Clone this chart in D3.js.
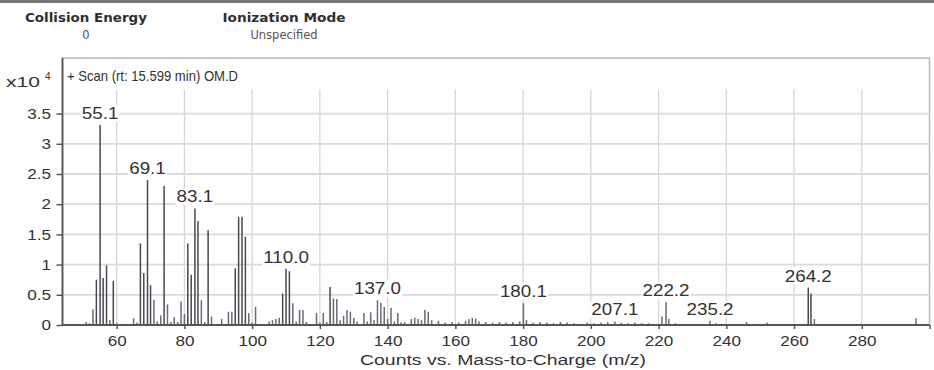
<!DOCTYPE html>
<html>
<head>
<meta charset="utf-8">
<script src="https://cdn.jsdelivr.net/npm/d3@7"></script>
<style>
  html, body { margin: 0; padding: 0; background: #fff; }
  svg { display: block; }
  text { font-family: "Liberation Sans", Arial, sans-serif; }
</style>
</head>
<body>
<svg id="chart" width="934" height="370"></svg>
<script>
// Spectrum: m/z positions and abundances (counts x 10^4)
const mz = [
  51, 52, 53, 54, 55.1, 56, 57, 58, 59, 60,
  65, 66, 67, 68, 69.1, 70, 71, 72, 73, 74, 75, 76, 77, 78, 79, 80,
  81, 82, 83.1, 84, 85, 86, 87, 88, 91, 93, 94, 95, 96, 97, 98, 99, 100, 101,
  105, 106, 107, 108, 109, 110.0, 111, 112, 113, 114, 115, 116,
  119, 120, 121, 122, 123, 124, 125, 126, 127, 128, 129, 130, 131,
  133, 134, 135, 136, 137.0, 138, 139, 140, 141, 142, 143, 144, 145,
  147, 148, 149, 150, 151, 152, 153, 155, 157, 159, 161, 163, 164, 165, 166, 167,
  169, 171, 173, 175, 177, 179, 180.1, 181, 183, 185, 187, 189, 191, 193, 195,
  199, 201, 203, 205, 207.1, 209, 211, 213, 215, 217, 221, 222.2, 223, 225,
  235.2, 237, 246, 252, 264.2, 265, 266, 296
];
const counts = [
  0.05, 0.03, 0.26, 0.75, 3.31, 0.78, 0.99, 0.08, 0.73, 0.03,
  0.11, 0.04, 1.35, 0.86, 2.40, 0.66, 0.42, 0.06, 0.16, 2.30, 0.34, 0.05, 0.13, 0.05, 0.39, 0.18,
  1.35, 0.83, 1.93, 1.72, 0.41, 0.05, 1.57, 0.14, 0.10, 0.22, 0.22, 0.94, 1.79, 1.79, 1.46, 0.20, 0.04, 0.30,
  0.06, 0.08, 0.10, 0.12, 0.52, 0.93, 0.89, 0.36, 0.06, 0.25, 0.25, 0.05,
  0.20, 0.04, 0.20, 0.05, 0.63, 0.44, 0.43, 0.08, 0.15, 0.25, 0.22, 0.12, 0.06,
  0.20, 0.06, 0.21, 0.08, 0.41, 0.37, 0.30, 0.10, 0.28, 0.06, 0.20, 0.04, 0.05,
  0.10, 0.12, 0.10, 0.08, 0.25, 0.22, 0.08, 0.07, 0.04, 0.05, 0.04, 0.07, 0.10, 0.12, 0.11, 0.06,
  0.05, 0.04, 0.05, 0.04, 0.05, 0.06, 0.36, 0.08, 0.04, 0.05, 0.04, 0.03, 0.05, 0.04, 0.03,
  0.04, 0.03, 0.04, 0.05, 0.06, 0.04, 0.03, 0.04, 0.03, 0.03, 0.14, 0.38, 0.10, 0.03,
  0.07, 0.03, 0.05, 0.04, 0.62, 0.52, 0.10, 0.11
];

// Annotated peaks (label text is the peak's m/z)
const peakLabels = ["55.1", "69.1", "83.1", "110.0", "137.0", "180.1", "207.1", "222.2", "235.2", "264.2"];

// Axis ticks
const xTicks = [60, 80, 100, 120, 140, 160, 180, 200, 220, 240, 260, 280];
const yTicks = [0, 0.5, 1, 1.5, 2, 2.5, 3, 3.5];
const yTickLabels = ["0", "0.5", "1", "1.5", "2", "2.5", "3", "3.5"];

const svg = d3.select("#chart");
const W = 934, H = 370;
const SX = 1.14; // horizontal stretch of the chart lettering

const x = d3.scaleLinear().domain([44, 300]).range([62.5, 929.5]);
const y = d3.scaleLinear().domain([0, 4.42]).range([325, 58]);

// Window frame line along the top
svg.append("rect").attr("x", 0).attr("y", 0).attr("width", W).attr("height", 3).attr("fill", "#777");

// Header fields
const header = [
  { name: "Collision Energy", value: "0", cx: 86, w: 122 },
  { name: "Ionization Mode", value: "Unspecified", cx: 284, w: 123 }
];
header.forEach(h => {
  svg.append("text").attr("x", h.cx).attr("y", 22).attr("text-anchor", "middle")
    .attr("textLength", h.w).attr("lengthAdjust", "spacingAndGlyphs")
    .style("font-family", "'DejaVu Sans', Verdana, sans-serif").style("font-weight", "bold")
    .style("font-size", "12.5px").attr("fill", "#2e2e2e").text(h.name);
  svg.append("text").attr("x", h.cx).attr("y", 39).attr("text-anchor", "middle")
    .style("font-family", "'DejaVu Sans', Verdana, sans-serif")
    .style("font-size", "11.5px").attr("fill", "#555").text(h.value);
});

// Plot frame
svg.append("rect")
  .attr("x", x.range()[0]).attr("y", y.range()[1])
  .attr("width", x.range()[1] - x.range()[0]).attr("height", y.range()[0] - y.range()[1])
  .attr("fill", "#fff").attr("stroke", "#b8b8b8").attr("stroke-width", 1.5);

// Grid
const grid = svg.append("g");
grid.selectAll("line.v").data(xTicks).join("line")
  .attr("x1", d => x(d)).attr("x2", d => x(d))
  .attr("y1", y(3.9)).attr("y2", y(0))
  .attr("stroke", "#d6d6d6").attr("stroke-width", 1.3);
grid.selectAll("line.h").data(yTicks.filter(d => d > 0)).join("line")
  .attr("x1", x.range()[0]).attr("x2", x.range()[1])
  .attr("y1", d => y(d)).attr("y2", d => y(d))
  .attr("stroke", "#dadada").attr("stroke-width", 1.8);

// Peak labels (white backing hides the grid behind them)
const byMz = new Map(mz.map((m, i) => [m, counts[i]]));
const labelLayer = svg.append("g");
peakLabels.forEach(lbl => {
  const m = +lbl;
  const v = byMz.get(m);
  const g = labelLayer.append("g")
    .attr("transform", `translate(${x(m)},${y(v) - 6}) scale(${SX},1)`);
  const rect = g.append("rect").attr("fill", "#fff");
  const t = g.append("text").attr("text-anchor", "middle")
    .style("font-size", "16.5px").attr("fill", "#333").text(lbl);
  const bb = t.node().getBBox();
  rect.attr("x", bb.x - 1).attr("y", bb.y + 1).attr("width", bb.width + 2).attr("height", bb.height - 2);
});

// Spectrum bars
svg.append("g").selectAll("line").data(mz).join("line")
  .attr("x1", d => x(d)).attr("x2", d => x(d))
  .attr("y1", y(0)).attr("y2", (d, i) => y(counts[i]))
  .attr("stroke", (d, i) => counts[i] > 0.5 ? "#4a4550" : "#6e6776")
  .attr("stroke-width", 1.5);

// Axes
const yAxis = svg.append("g").attr("transform", `translate(${x.range()[0]},0)`)
  .call(d3.axisLeft(y).tickValues(yTicks).tickFormat((d, i) => yTickLabels[i]).tickSize(6).tickPadding(4));
const xAxis = svg.append("g").attr("transform", `translate(0,${y(0)})`)
  .call(d3.axisBottom(x).tickValues(xTicks.concat([300])).tickFormat(d => d === 300 ? "" : d).tickSize(4).tickPadding(6));
[yAxis, xAxis].forEach(a => {
  a.select(".domain").remove();
  a.selectAll(".tick line").attr("stroke", "#555").attr("stroke-width", 1.5);
  a.selectAll(".tick text").style("font-size", "15px").attr("fill", "#333")
    .style("font-family", "'Liberation Sans', Arial, sans-serif")
    .attr("transform", `scale(${SX},1)`);
});
svg.append("line").attr("x1", x.range()[0]).attr("x2", x.range()[0])
  .attr("y1", y.range()[1]).attr("y2", y(0) + 1).attr("stroke", "#555").attr("stroke-width", 1.8);
svg.append("line").attr("x1", x.range()[0]).attr("x2", x.range()[1])
  .attr("y1", y(0)).attr("y2", y(0)).attr("stroke", "#555").attr("stroke-width", 1.8);

// Scale factor and scan title
svg.append("text").attr("x", 6).attr("y", 87)
  .attr("textLength", 34).attr("lengthAdjust", "spacingAndGlyphs")
  .style("font-size", "15px").attr("fill", "#333").text("x10");
svg.append("text").attr("x", 45).attr("y", 80)
  .style("font-size", "10px").attr("fill", "#333").text("4");
svg.append("text").attr("x", 67).attr("y", 81)
  .attr("textLength", 171).attr("lengthAdjust", "spacingAndGlyphs")
  .style("font-size", "14.5px").attr("fill", "#333").text("+ Scan (rt: 15.599 min) OM.D");

// X axis title
svg.append("text").attr("x", 503).attr("y", 365).attr("text-anchor", "middle")
  .attr("textLength", 286).attr("lengthAdjust", "spacingAndGlyphs")
  .style("font-size", "15.5px").attr("fill", "#333").text("Counts vs. Mass-to-Charge (m/z)");
</script>
</body>
</html>
